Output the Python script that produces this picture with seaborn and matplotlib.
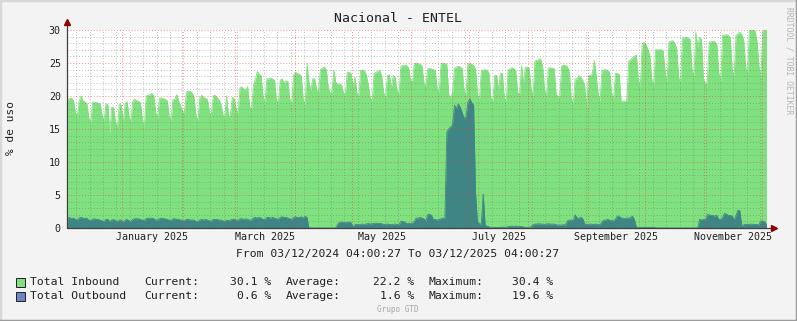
import numpy as np
import pandas as pd
import matplotlib
matplotlib.use("Agg")
import matplotlib.pyplot as plt
import matplotlib.dates as mdates
import matplotlib.transforms as mtransforms
from matplotlib.patches import Rectangle
from matplotlib.lines import Line2D
from matplotlib.ticker import MultipleLocator, NullFormatter
import seaborn as sns

# ---------------- data ----------------
title = "Nacional - ENTEL"
y_label = "% de uso"
start_ts = "2024-12-03 04:00:27"
end_ts = "2025-12-03 04:00:27"
period_text = "From 03/12/2024 04:00:27 To 03/12/2025 04:00:27"
watermark = "RRDTOOL / TOBI OETIKER"
footer = "Grupo GTD"

# daily values, rows are weeks (Mon..Sun); first row starts Tue 3 Dec 2024
inbound = [
    19.4, 19.6, 19.7, 19.3, 17.6, 16.8,
    19.2, 20.0, 19.3, 19.1, 18.9, 16.8, 15.8,
    19.0, 19.1, 19.0, 18.9, 18.8, 17.0, 16.2,
    18.8, 18.7, 14.4, 18.3, 18.2, 16.0, 15.2,
    18.8, 18.6, 15.8, 18.8, 19.2, 17.0, 16.0,
    19.2, 19.5, 19.3, 19.2, 19.0, 16.5, 15.0,
    20.0, 20.1, 20.2, 20.4, 20.0, 17.5, 16.6,
    19.7, 19.7, 19.6, 19.5, 19.3, 17.0, 16.2,
    19.5, 19.5, 20.2, 19.2, 18.5, 17.6, 17.5,
    20.6, 20.7, 20.7, 20.5, 19.8, 17.0, 16.2,
    19.7, 20.1, 19.8, 19.6, 19.5, 17.6, 17.0,
    20.0, 20.1, 19.8, 19.4, 18.8, 17.2, 16.7,
    20.0, 16.9, 17.2, 19.8, 19.6, 18.0, 17.3,
    21.3, 21.4, 21.0, 20.9, 21.4, 18.5, 17.7,
    21.6, 22.5, 23.7, 23.3, 23.1, 20.0, 18.8,
    22.6, 22.6, 22.7, 22.6, 22.4, 19.5, 18.8,
    22.4, 22.6, 21.9, 22.3, 22.2, 19.5, 18.7,
    23.2, 23.6, 23.4, 23.3, 23.0, 19.5, 18.6,
    24.9, 22.1, 20.8, 22.6, 22.6, 21.0, 20.4,
    24.0, 24.2, 24.4, 24.0, 21.5, 20.4, 20.6,
    23.9, 22.1, 21.8, 21.8, 21.7, 20.5, 20.1,
    23.6, 23.6, 23.4, 21.4, 22.9, 20.5, 19.8,
    23.9, 23.9, 23.8, 23.2, 21.6, 19.8, 19.1,
    23.4, 23.6, 23.7, 23.9, 23.0, 20.5, 19.6,
    23.1, 23.2, 21.1, 23.1, 22.8, 20.8, 20.2,
    24.5, 24.6, 24.7, 24.6, 24.3, 22.5, 21.9,
    24.9, 25.0, 24.9, 24.8, 24.6, 22.0, 21.4,
    24.1, 24.2, 24.1, 24.0, 23.8, 21.0, 20.6,
    24.9, 25.0, 24.9, 24.8, 20.2, 19.8, 20.5,
    24.2, 24.4, 24.5, 24.4, 24.2, 20.8, 20.1,
    24.9, 24.9, 24.8, 24.6, 24.0, 20.2, 19.3,
    23.9, 23.9, 24.0, 23.9, 23.5, 19.8, 19.1,
    23.1, 23.1, 20.9, 23.4, 23.4, 19.8, 19.1,
    24.0, 24.1, 24.3, 24.1, 23.8, 20.5, 20.1,
    24.6, 21.9, 24.3, 24.4, 24.2, 21.0, 20.0,
    25.3, 25.4, 25.5, 25.6, 24.5, 21.0, 19.7,
    24.2, 24.3, 24.2, 24.2, 20.5, 19.8, 20.0,
    24.6, 24.7, 24.6, 24.5, 23.5, 19.6, 18.8,
    22.6, 22.6, 23.1, 22.8, 22.4, 21.5, 18.3,
    23.1, 23.1, 23.4, 25.4, 23.0, 20.5, 19.1,
    23.9, 23.9, 24.0, 23.9, 23.6, 20.5, 19.3,
    23.4, 23.4, 23.3, 19.2, 19.2, 19.2, 19.3,
    25.3, 25.5, 25.8, 26.0, 26.2, 22.5, 21.1,
    27.9, 28.1, 27.8, 27.0, 26.2, 22.5, 21.4,
    27.0, 27.0, 27.0, 27.0, 26.8, 23.5, 22.1,
    28.2, 28.3, 28.4, 28.0, 27.2, 23.0, 21.7,
    28.8, 28.8, 28.9, 28.8, 28.6, 24.0, 22.9,
    29.7, 27.4, 28.9, 28.5, 22.5, 21.9, 22.0,
    28.2, 28.2, 28.3, 28.2, 27.8, 23.5, 22.2,
    29.2, 29.2, 29.3, 29.2, 28.8, 24.0, 22.9,
    29.2, 29.4, 29.7, 29.3, 28.5, 24.5, 23.1,
    30.2, 30.4, 30.0, 29.8, 28.2, 24.5, 22.9,
    29.9, 30.1, 30.1,
]

outbound = [
    1.5, 1.6, 1.4, 1.5, 1.3, 1.2,
    1.5, 1.6, 1.5, 1.4, 1.5, 1.2, 1.1,
    1.3, 1.4, 1.3, 1.3, 1.2, 1.1, 1.0,
    1.3, 1.3, 1.0, 1.2, 1.3, 1.1, 1.0,
    1.2, 1.2, 0.9, 1.2, 1.3, 1.1, 1.0,
    1.3, 1.4, 1.4, 1.4, 1.3, 1.2, 1.1,
    1.4, 1.5, 1.4, 1.5, 1.4, 1.2, 1.2,
    1.4, 1.5, 1.4, 1.4, 1.3, 1.2, 1.1,
    1.4, 1.4, 1.3, 1.3, 1.2, 1.1, 1.1,
    1.3, 1.3, 1.2, 1.2, 1.2, 1.0, 1.0,
    1.2, 1.3, 1.2, 1.3, 1.2, 1.1, 1.0,
    1.3, 1.3, 1.3, 1.2, 1.2, 1.1, 1.0,
    1.2, 1.1, 1.2, 1.3, 1.3, 1.2, 1.1,
    1.4, 1.4, 1.3, 1.4, 1.3, 1.2, 1.2,
    1.5, 1.6, 1.5, 1.6, 1.5, 1.3, 1.3,
    1.6, 1.6, 1.5, 1.6, 1.5, 1.4, 1.3,
    1.6, 1.7, 1.6, 1.6, 1.5, 1.4, 1.3,
    1.6, 1.7, 1.6, 1.6, 1.7, 1.5, 1.8,
    1.6, 0.0, 0.0, 0.0, 0.0, 0.0, 0.0,
    0.0, 0.0, 0.0, 0.0, 0.0, 0.0, 0.0,
    0.0, 0.0, 0.6, 0.85, 0.9, 0.85, 0.8,
    0.85, 0.9, 0.8, 0.2, 0.5, 0.55, 0.5,
    0.55, 0.6, 0.55, 0.6, 0.7, 0.6, 0.65,
    0.7, 0.75, 0.7, 0.7, 0.65, 0.55, 0.55,
    0.6, 0.55, 0.5, 0.55, 0.6, 0.5, 0.55,
    0.95, 1.0, 0.9, 0.7, 0.7, 0.65, 0.7,
    1.0, 1.5, 1.5, 1.6, 1.5, 1.4, 1.0,
    2.0, 2.1, 1.9, 1.3, 1.3, 1.2, 1.3,
    1.4, 1.5, 1.5, 14.5, 15.0, 15.3, 15.6,
    18.6, 18.1, 18.8, 18.3, 17.5, 16.6, 16.8,
    19.0, 19.6, 19.0, 18.6, 5.2, 0.9, 0.65,
    0.6, 5.2, 0.4, 0.3, 0.2, 0.1, 0.1,
    0.1, 0.1, 0.1, 0.1, 0.15, 0.1, 0.1,
    0.2, 0.25, 0.3, 0.25, 0.3, 0.25, 0.2,
    0.25, 0.15, 0.1, 0.1, 0.1, 0.2, 0.5,
    0.6, 0.6, 0.65, 0.6, 0.6, 0.55, 0.6,
    0.65, 0.6, 0.6, 0.6, 0.5, 0.45, 0.45,
    0.45, 0.5, 0.45, 1.1, 1.2, 1.2, 1.1,
    2.0, 1.5, 1.5, 1.6, 1.4, 0.6, 0.55,
    0.55, 0.6, 0.55, 0.55, 0.6, 0.5, 0.5,
    0.9, 1.2, 1.2, 1.3, 1.2, 1.1, 1.1,
    1.3, 1.8, 1.8, 1.5, 1.5, 1.4, 1.5,
    1.5, 1.6, 1.8, 1.2, 0.1, 0.1, 0.1,
    0.1, 0.1, 0.1, 0.1, 0.1, 0.1, 0.1,
    0.05, 0.0, 0.0, 0.0, 0.0, 0.0, 0.0,
    0.0, 0.0, 0.0, 0.0, 0.0, 0.0, 0.0,
    0.0, 0.0, 0.0, 0.0, 0.0, 0.0, 0.0,
    0.0, 0.0, 1.3, 1.2, 1.3, 1.2, 2.0,
    2.0, 1.9, 1.9, 1.8, 1.9, 1.3, 1.3,
    1.6, 2.2, 2.1, 1.9, 1.9, 1.8, 1.2,
    1.9, 2.7, 2.6, 0.3, 0.5, 0.55, 0.55,
    0.55, 0.6, 0.55, 0.55, 0.5, 0.55, 1.05,
    1.05, 0.9, 0.6,
]

x_label_months = ["2025-01", "2025-03", "2025-05", "2025-07", "2025-09", "2025-11"]
x_label_texts = ["January 2025", "March 2025", "May 2025", "July 2025",
                 "September 2025", "November 2025"]
y_ticks = [0, 5, 10, 15, 20, 25, 30]

legend_names = ["Total Inbound", "Total Outbound"]
legend_current = [30.1, 0.6]
legend_average = [22.2, 1.6]
legend_maximum = [30.4, 19.6]

# ---------------- style ----------------
sns.set_style("white")
plt.rcParams["font.family"] = ["DejaVu Sans Mono"]

BG = "#F3F3F3"
IN_COLOR = "#80E27E"
OUT_AREA = "#3E8686"
OUT_LEGEND = "#6F86C6"
TXT = "#202020"

W, H = 797, 321
fig = plt.figure(figsize=(W / 100, H / 100), dpi=100, facecolor=BG)


def fx(px):
    return px / W


def fy(py):
    return 1 - py / H


ax = fig.add_axes([fx(67), fy(228), (766 - 67) / W, (228 - 30) / H])
ax.set_facecolor("white")

start = pd.Timestamp(start_ts)
end = pd.Timestamp(end_ts)
n = len(inbound)
dates = start.normalize() + pd.Timedelta(hours=12) + pd.to_timedelta(np.arange(n), unit="D")
df = pd.DataFrame({"date": dates, "inbound": inbound, "outbound": outbound})

ax.fill_between(df["date"], df["inbound"], 0, color=IN_COLOR, lw=0, zorder=1)
sns.lineplot(data=df, x="date", y="inbound", color=IN_COLOR, lw=0.6, ax=ax, zorder=1.2)
ax.fill_between(df["date"], df["outbound"], 0, color=OUT_AREA, lw=0, zorder=1.5)
sns.lineplot(data=df, x="date", y="outbound", color=OUT_AREA, lw=0.6, ax=ax, zorder=1.6)

ax.set_xlim(mdates.date2num(start), mdates.date2num(end))
ax.set_ylim(0, 30)
ax.set_xlabel("")
ax.set_ylabel("")

# grid
ax.xaxis.set_major_locator(mdates.MonthLocator())
ax.xaxis.set_minor_locator(mdates.WeekdayLocator(byweekday=mdates.SU))
ax.xaxis.set_major_formatter(NullFormatter())
ax.yaxis.set_major_locator(MultipleLocator(5))
ax.yaxis.set_minor_locator(MultipleLocator(1))
ax.set_yticks(y_ticks)
ax.set_yticklabels([str(v) for v in y_ticks], fontsize=7.2, color=TXT)
ax.set_axisbelow(False)
ax.grid(which="minor", color="#6E6E6E", alpha=0.45, linestyle=(0, (1, 2)), lw=0.7)
ax.grid(which="major", color="#FF3030", alpha=0.55, linestyle=(0, (1, 2)), lw=0.7)
ax.tick_params(axis="y", which="major", direction="out", length=2.5, width=0.6,
               color="#FF6060", pad=2)
ax.tick_params(axis="y", which="minor", direction="out", length=1.5, width=0.6,
               color="#909090")
ax.tick_params(axis="x", which="major", direction="out", length=2.5, width=0.6,
               color="#FF6060")
ax.tick_params(axis="x", which="minor", direction="out", length=1.5, width=0.6,
               color="#909090")
for s in ax.spines.values():
    s.set_visible(False)

# axis lines with arrows
ax.plot([0, 0], [0, 1 + 6 / 198], transform=ax.transAxes, clip_on=False,
        color="#404040", lw=0.9, zorder=5)
ax.plot([0], [1 + 8 / 198], transform=ax.transAxes, clip_on=False, marker="^",
        ms=4.2, color="#8B0000", mec="#8B0000", zorder=6)
ax.plot([0, 1 + 6 / 699], [0, 0], transform=ax.transAxes, clip_on=False,
        color="#404040", lw=0.9, zorder=5)
ax.plot([1 + 8 / 699], [0], transform=ax.transAxes, clip_on=False, marker=">",
        ms=4.2, color="#8B0000", mec="#8B0000", zorder=6)

# x labels, centred on each labelled month
trans = mtransforms.blended_transform_factory(ax.transData, ax.transAxes)
for m, lab in zip(x_label_months, x_label_texts):
    m0 = pd.Timestamp(m + "-01")
    m1 = m0 + pd.offsets.MonthBegin(1)
    mid = m0 + (m1 - m0) / 2
    ax.text(mdates.date2num(mid), -9.5 / 198, lab, transform=trans, ha="center",
            va="center", fontsize=7.2, color=TXT)

# texts
fig.text(fx(398), fy(19), title, ha="center", va="center", fontsize=9.5, color=TXT)
fig.text(fx(11), fy(128), y_label, ha="center", va="center", rotation=90,
         fontsize=8, color=TXT)
fig.text(fx(789), fy(61), watermark, ha="center", va="center", rotation=270,
         fontsize=5.8, color="#B4B4B4")
fig.text(fx(398), fy(254), period_text, ha="center", va="center", fontsize=8.2,
         color=TXT)
fig.text(fx(398), fy(310), footer, ha="center", va="center", fontsize=5.5,
         color="#A8A8A8")

# legend
leg_colors = [IN_COLOR, OUT_LEGEND]
rows_y = [282, 296]
for name, col, cur, avg, mx, yy in zip(legend_names, leg_colors, legend_current,
                                        legend_average, legend_maximum, rows_y):
    fig.add_artist(Rectangle((fx(16), fy(yy + 4.5)), 9 / W, 9 / H,
                             transform=fig.transFigure, facecolor=col,
                             edgecolor="#202020", lw=0.7))
    fig.text(fx(30), fy(yy), name, ha="left", va="center", fontsize=8.2, color=TXT)
    fig.text(fx(144), fy(yy), "Current:", ha="left", va="center", fontsize=8.2, color=TXT)
    fig.text(fx(271), fy(yy), f"{cur:.1f} %", ha="right", va="center", fontsize=8.2, color=TXT)
    fig.text(fx(286), fy(yy), "Average:", ha="left", va="center", fontsize=8.2, color=TXT)
    fig.text(fx(414), fy(yy), f"{avg:.1f} %", ha="right", va="center", fontsize=8.2, color=TXT)
    fig.text(fx(429), fy(yy), "Maximum:", ha="left", va="center", fontsize=8.2, color=TXT)
    fig.text(fx(553), fy(yy), f"{mx:.1f} %", ha="right", va="center", fontsize=8.2, color=TXT)

# frame (light top/left, dark bottom/right)
fig.add_artist(Line2D([0, 0], [0, 1], transform=fig.transFigure, color="#D8D8D8", lw=2.5))
fig.add_artist(Line2D([0, 1], [1, 1], transform=fig.transFigure, color="#D8D8D8", lw=2.5))
fig.add_artist(Line2D([1, 1], [0, 1], transform=fig.transFigure, color="#9C9C9C", lw=2.5))
fig.add_artist(Line2D([0, 1], [0, 0], transform=fig.transFigure, color="#9C9C9C", lw=2.5))

fig.savefig("out.png", dpi=100, facecolor=BG)
